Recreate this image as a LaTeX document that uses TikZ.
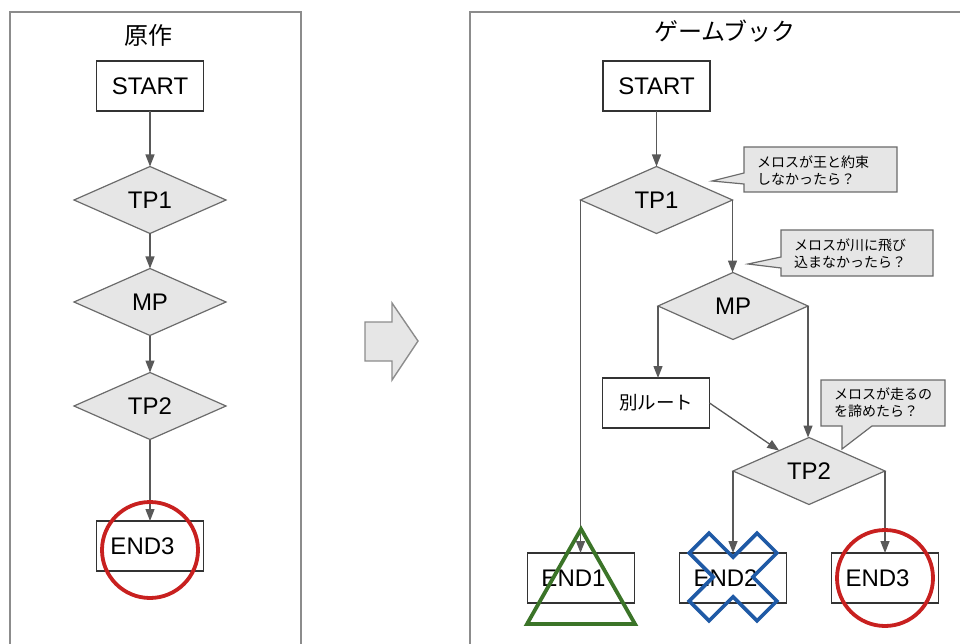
\documentclass[tikz,border=0pt]{standalone}
\usepackage{fontspec}
\setmainfont{Liberation Sans}
\newfontfamily\jp{Noto Sans CJK JP}
\usetikzlibrary{arrows.meta,shapes.geometric}

\definecolor{panelgray}{HTML}{8C8C8C}
\definecolor{linegray}{HTML}{595959}
\definecolor{shapegray}{HTML}{E6E6E6}
\definecolor{diaedge}{HTML}{6B6B6B}
\definecolor{boxedge}{HTML}{333333}
\definecolor{markred}{HTML}{C8201F}
\definecolor{markgreen}{HTML}{3B7428}
\definecolor{markblue}{HTML}{1F5AA6}

\tikzset{
  panel/.style={draw=panelgray, line width=1.8pt},
  titletext/.style={font=\jp\fontsize{24}{28}\selectfont},
  stepbox/.style={draw=boxedge, fill=white, line width=1.2pt, rectangle,
    minimum width=107pt, minimum height=50pt, inner sep=0pt, outer sep=0pt,
    font=\fontsize{24}{28}\selectfont},
  decision/.style={draw=diaedge, fill=shapegray, line width=1.2pt, diamond,
    minimum width=152pt, minimum height=67pt, inner sep=0pt, outer sep=0pt,
    font=\fontsize{24}{28}\selectfont},
  flow/.style={draw=linegray, line width=1.3pt,
    -{Triangle[length=12pt,width=9pt]}},
  callout/.style={draw=diaedge, fill=shapegray, line width=1.2pt, line join=miter},
  callouttext/.style={font=\jp\fontsize{14}{17}\selectfont, align=left,
    anchor=west, inner sep=0pt},
  redmark/.style={draw=markred, line width=3.8pt},
  greenmark/.style={draw=markgreen, line width=3.8pt, line join=miter},
  bluemark/.style={draw=markblue, line width=3.6pt, line join=miter},
}

\begin{document}
\begin{tikzpicture}[x=1pt, y=-1pt]
\useasboundingbox (0,0) rectangle (960,644);

% panel frames (open at the bottom / right edge)
\draw[panel] (10,660) -- (10,12) -- (301,12) -- (301,660);
\draw[panel] (470,660) -- (470,12) -- (975,12);

% titles
\node[titletext] (titleL) at (148,35) {原作};
\node[titletext] (titleR) at (725,31) {ゲームブック};

% ---- left flow: the original story ----
\node[stepbox] (startL) at (150,86) {START};
\node[decision] (tp1L) at (150,200) {TP1};
\node[decision] (mpL) at (150,302) {MP};
\node[decision] (tp2L) at (150,406) {TP2};
\node[stepbox] (end3L) at (150,546) {END3\kern15pt};

\draw[flow] (startL) -- (tp1L);
\draw[flow] (tp1L) -- (mpL);
\draw[flow] (mpL) -- (tp2L);
\draw[flow] (tp2L) -- (end3L);

% ---- big block arrow in the middle ----
\draw[draw=panelgray, fill=shapegray, line width=1.4pt, line join=miter]
  (365,322) -- (392,322) -- (392,303) -- (418,341) -- (392,380) -- (392,361)
  -- (365,361) -- cycle;

% ---- right flow: the gamebook ----
\node[stepbox] (startR) at (656.5,86) {START};
\node[decision] (tp1R) at (656.5,200) {TP1};
\node[decision, minimum width=150pt] (mpR) at (733,306) {MP};
\node[stepbox, font=\jp\fontsize{18.5}{22}\selectfont] (altR) at (656,403) {別ルート};
\node[decision] (tp2R) at (809,471) {TP2};
\node[stepbox] (end1) at (581,578) {END1\kern15pt};
\node[stepbox] (end2) at (733,578) {END2\kern15pt};
\node[stepbox] (end3R) at (885,578) {END3\kern15pt};

\draw[flow] (startR) -- (tp1R);
\draw[flow] (tp1R.west) -- (tp1R.west |- end1.north);
\draw[flow] (tp1R.east) -- (tp1R.east |- mpR.north);
\draw[flow] (mpR.west) -- (mpR.west |- altR.north);
\draw[flow] (mpR.east) -- (mpR.east |- tp2R.north);
\draw[flow] (altR.east) -- (tp2R);
\draw[flow] (tp2R.west) -- (tp2R.west |- end2.north);
\draw[flow] (tp2R.east) -- (tp2R.east |- end3R.north);

% speech callouts
\draw[callout] (744,147) -- (897,147) -- (897,192) -- (744,192) -- (744,184)
  -- (712,181) -- (744,173) -- cycle;
\node[callouttext] (q1) at (757,170.5) {メロスが王と約束\\しなかったら？};

\draw[callout] (781,230) -- (933,230) -- (933,276) -- (781,276) -- (781,268)
  -- (748,264) -- (781,257) -- cycle;
\node[callouttext] (q2) at (794,253.5) {メロスが川に飛び\\込まなかったら？};

\draw[callout] (821,380) -- (945,380) -- (945,426) -- (872,426) -- (842,449)
  -- (842,426) -- (821,426) -- cycle;
\node[callouttext] (q3) at (834,402.5) {メロスが走るの\\を諦めたら？};

% ending marks
\draw[redmark] (150,550) circle[radius=48pt];
\draw[redmark] (885,578) circle[radius=48pt];
\draw[greenmark] (581,529) -- (635,624) -- (527,624) -- cycle;
\draw[bluemark, shift={(733,577)}]
  (0,19.8) -- (24,43.8) -- (43.8,24) -- (19.8,0) -- (43.8,-24) -- (24,-43.8)
  -- (0,-19.8) -- (-24,-43.8) -- (-43.8,-24) -- (-19.8,0) -- (-43.8,24)
  -- (-24,43.8) -- cycle;
\end{tikzpicture}
\end{document}
